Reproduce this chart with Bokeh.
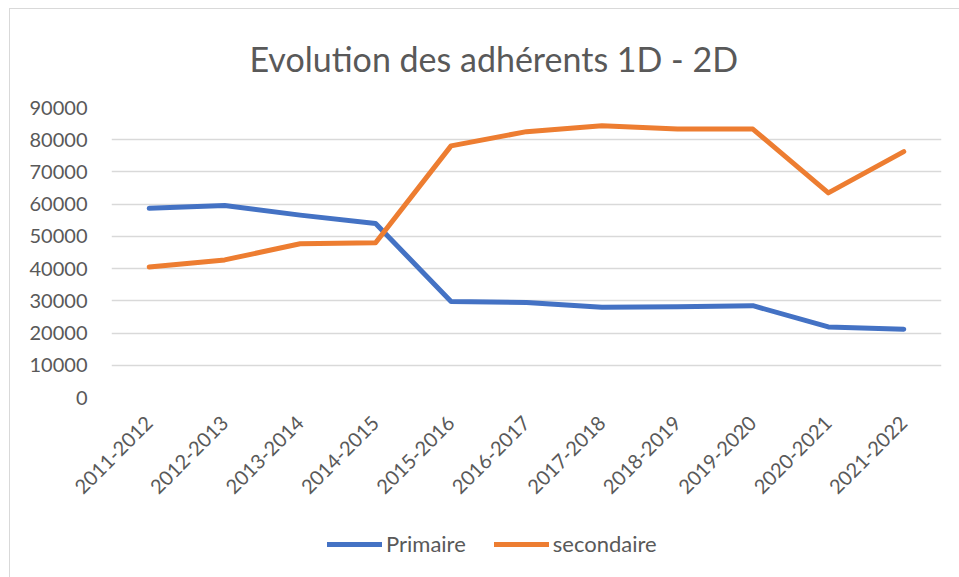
from bokeh.plotting import figure
from bokeh.layouts import column
from bokeh.models import Legend, LegendItem, FactorRange, Range1d, SingleIntervalTicker, NumeralTickFormatter
from bokeh.embed import file_html
from bokeh.resources import INLINE
import math

years = ["2011-2012", "2012-2013", "2013-2014", "2014-2015", "2015-2016", "2016-2017",
         "2017-2018", "2018-2019", "2019-2020", "2020-2021", "2021-2022"]
primaire = [58700, 59600, 56600, 54000, 29800, 29500, 28000, 28200, 28500, 21900, 21200]
secondaire = [40500, 42700, 47700, 48000, 78100, 82500, 84300, 83300, 83300, 63500, 76300]
series_names = ["Primaire", "secondaire"]
series_values = [primaire, secondaire]
colors = ["#4472C4", "#ED7D31"]

TXT = "#595959"
FONT = "Lato"

p = figure(width=950, height=507, x_range=FactorRange(*years), y_range=Range1d(0, 90000),
           output_backend="svg", toolbar_location=None,
           min_border_left=101, min_border_right=19, min_border_top=98, min_border_bottom=119)

p.title.text = "Evolution des adhérents 1D - 2D"
p.title.align = "left"
p.title.offset = 138
p.title.vertical_align = "middle"
p.title.standoff = 55
p.title.text_font = FONT
p.title.text_font_size = "34px"
p.title.text_font_style = "normal"
p.title.text_color = TXT

p.outline_line_color = None
p.xgrid.grid_line_color = None
p.ygrid.grid_line_color = "#d9d9d9"
p.ygrid.grid_line_width = 1.3

p.yaxis.ticker = SingleIntervalTicker(interval=10000)
p.yaxis.formatter = NumeralTickFormatter(format="0")
p.yaxis.axis_line_color = None
p.yaxis.major_tick_line_color = None
p.yaxis.minor_tick_line_color = None
p.yaxis.major_tick_out = 0
p.yaxis.major_label_standoff = 20
p.yaxis.major_label_text_font = FONT
p.yaxis.major_label_text_font_size = "20px"
p.yaxis.major_label_text_color = TXT

p.xaxis.axis_line_color = None
p.xaxis.major_tick_line_color = None
p.xaxis.major_tick_out = 0
p.xaxis.major_label_orientation = math.pi / 4
p.xaxis.major_label_standoff = 22
p.xaxis.major_label_text_font = FONT
p.xaxis.major_label_text_font_size = "20px"
p.xaxis.major_label_text_color = TXT

for vals, c in zip(series_values, colors):
    p.line(years, vals, line_color=c, line_width=5, line_cap="round", line_join="round")

# legend strip below the chart (its own copies of the series lie outside its visible range)
pl = figure(width=950, height=62, x_range=FactorRange(*years), y_range=Range1d(100000, 200000),
            x_axis_type=None, y_axis_type=None, output_backend="svg", toolbar_location=None,
            min_border=0)
pl.outline_line_color = None
pl.xgrid.visible = False
pl.ygrid.visible = False
items = []
for name, vals, c in zip(series_names, series_values, colors):
    r = pl.line(years, vals, line_color=c, line_width=5, line_cap="round")
    items.append(LegendItem(label=name, renderers=[r]))
legend = Legend(items=items, orientation="horizontal", location=(216, 21))
legend.border_line_color = None
legend.background_fill_alpha = 0
legend.glyph_width = 55
legend.label_standoff = 4
legend.spacing = 28
legend.padding = 0
legend.margin = 0
legend.label_text_font = FONT
legend.label_text_font_size = "22px"
legend.label_text_color = TXT
pl.add_layout(legend, "center")

layout = column(p, pl, spacing=0, margin=(8, 0, 0, 9),
                styles={"border-left": "1px solid #d9d9d9", "border-top": "1px solid #d9d9d9"})

open("out.html", "w").write(file_html(layout, INLINE))
